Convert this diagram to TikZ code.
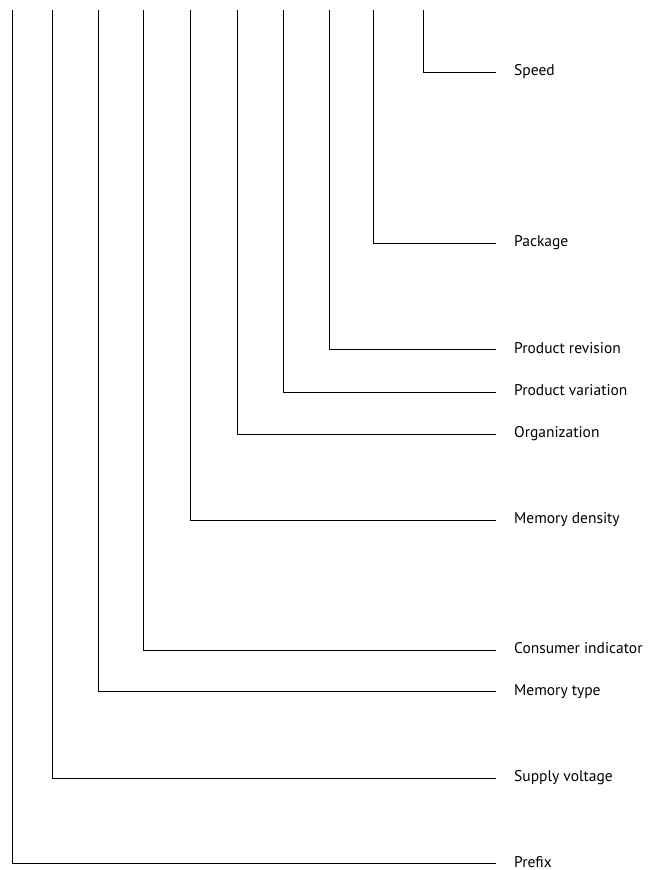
\documentclass[tikz,border=0pt]{standalone}
\usepackage{fontspec}
\setmainfont{PT Sans}
\begin{document}
\begin{tikzpicture}[x=1pt,y=-1pt,
  lbl/.style={anchor=base west,inner xsep=18pt,inner ysep=0pt,font=\fontsize{15.5}{18}\selectfont},
  lead/.style={line width=0.9pt,black}]
\useasboundingbox (0,0) rectangle (651,870);
\foreach \n/\x/\y/\t in {
  a/12.3/863.5/Prefix,
  b/52.3/778/Supply voltage,
  c/98.5/691.5/Memory type,
  d/143.5/650/Consumer indicator,
  e/190/520/Memory density,
  f/237.3/434/Organization,
  g/283/392/Product variation,
  h/329/349.5/Product revision,
  i/373.5/243/Package,
  j/423.5/72/Speed}{
  \coordinate (top\n) at (\x,9.5);
  \coordinate (end\n) at (496,\y);
  \node[lbl] (l\n) at ([yshift=-3.7pt]end\n) {\t};
  \draw[lead] (top\n) |- (end\n);
}
\end{tikzpicture}
\end{document}
